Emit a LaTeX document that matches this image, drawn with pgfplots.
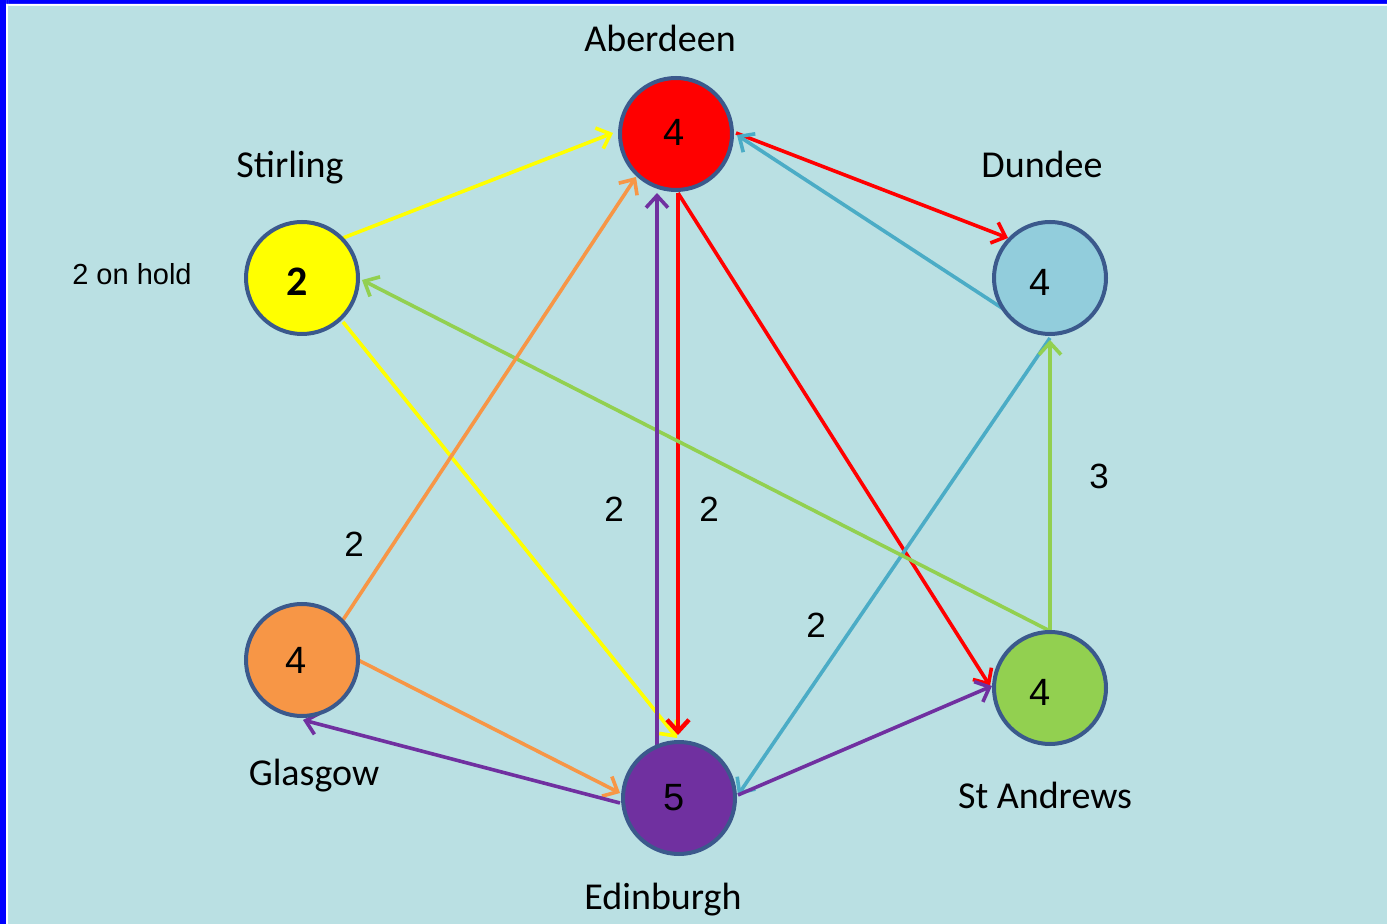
\documentclass[border=0pt]{standalone}
\usepackage{pgfplots}
\pgfplotsset{compat=1.18}
\usepackage{fontspec}
\setmainfont{Carlito}
\newfontfamily\arialf{Liberation Sans}
\usetikzlibrary{arrows.meta}
\definecolor{bg}{RGB}{186,224,227}
\definecolor{edge}{RGB}{59,89,140}
\definecolor{cRed}{RGB}{255,0,0}
\definecolor{cBlue}{RGB}{146,205,220}
\definecolor{cBlueL}{RGB}{75,172,198}
\definecolor{cYellow}{RGB}{255,255,0}
\definecolor{cOrange}{RGB}{247,150,70}
\definecolor{cGreen}{RGB}{146,208,80}
\definecolor{cPurple}{RGB}{112,48,160}
\tikzset{
  lbl/.style={anchor=base, font=\fontsize{19}{22}\selectfont},
  num/.style={anchor=base, font=\arialf\fontsize{17.5}{20}\selectfont},
  arr/.style={line width=1.8pt, -{Straight Barb[length=6pt,width=11pt]}},
}
\pgfplotsset{
  city/.style={only marks, mark=*, mark size=28pt,
    mark options={fill=#1, draw=edge, line width=2pt}},
  count/.style 2 args={only marks, mark=none,
    point meta=explicit symbolic, nodes near coords,
    nodes near coords align={center},
    every node near coord/.append style={anchor=center, text=black,
      font=\arialf\fontsize{19}{22}\selectfont, xshift=#1, yshift=#2}},
}
\begin{document}
\begin{tikzpicture}
\begin{axis}[
  width=693.5pt, height=462pt, scale only axis,
  xmin=0, xmax=1387, ymin=0, ymax=924, y dir=reverse,
  hide axis, clip=false,
]
% background and border
\addplot[draw=none, fill=blue] coordinates {(0,0) (1387,0) (1387,924) (0,924)} \closedcycle;
\addplot[draw=none, fill=white] coordinates {(6,4) (1387,4) (1387,924) (6,924)} \closedcycle;
\addplot[draw=none, fill=bg] coordinates {(8,6) (1387,6) (1387,924) (8,924)} \closedcycle;
% nodes
\addplot[city=cRed] coordinates {(676,134)};
\addplot[city=cBlue] coordinates {(1050,278)};
\addplot[city=cYellow] coordinates {(302,278)};
\addplot[city=cOrange] coordinates {(302,660)};
\addplot[city=cGreen] coordinates {(1050,688)};
\addplot[city=cPurple] coordinates {(679,798)};
% edges
\addplot[arr, no markers, cYellow] coordinates {(343,238) (613,133)};
\addplot[arr, no markers, cYellow] coordinates {(343,322) (677,738)};
\addplot[arr, no markers, cRed] coordinates {(736,133) (1008,238)};
\addplot[arr, no markers, cRed] coordinates {(678,193) (990,686)};
\addplot[arr, no markers, cRed, line width=2.2pt] coordinates {(678,193) (678,735)};
\addplot[arr, no markers, cBlueL] coordinates {(1005,310) (737,135)};
\addplot[arr, no markers, cBlueL] coordinates {(1050,338) (738,795)};
\addplot[arr, no markers, cGreen] coordinates {(1050,630) (1050,340)};
\addplot[arr, no markers, cGreen] coordinates {(1048,630) (362,280)};
\addplot[arr, no markers, cOrange] coordinates {(343,620) (636,177)};
\addplot[arr, no markers, cOrange] coordinates {(358,660) (620,793)};
\addplot[arr, no markers, cPurple] coordinates {(657,745) (657,193)};
\addplot[arr, no markers, cPurple] coordinates {(620,803) (303,720)};
\addplot[arr, no markers, cPurple] coordinates {(738,795) (992,686)};
% counts inside nodes
\addplot[count={-1pt}{1pt}] coordinates {(676,134) [4]};
\addplot[count={-5pt}{-2pt}] coordinates {(1050,278) [4]};
\addplot[count={-2.5pt}{-2pt}, every node near coord/.append style={font=\bfseries\fontsize{21}{24}\selectfont}] coordinates {(302,278) [2]};
\addplot[count={-3pt}{0pt}] coordinates {(302,660) [4]};
\addplot[count={-5pt}{-2pt}] coordinates {(1050,688) [4]};
\addplot[count={-2.5pt}{0pt}] coordinates {(679,798) [5]};
% labels
\node[lbl] at (axis cs:660,52) {Aberdeen};
\node[lbl] at (axis cs:290,178) {Stirling};
\node[lbl] at (axis cs:1042,178) {Dundee};
\node[lbl] at (axis cs:314,785) {Glasgow};
\node[lbl] at (axis cs:1045,808) {St Andrews};
\node[lbl] at (axis cs:663,909) {Edinburgh};
\node[anchor=base, font=\arialf\fontsize{14.5}{17}\selectfont] at (axis cs:132,285) {2 on hold};
\node[num] at (axis cs:354,557) {2};
\node[num] at (axis cs:614,522) {2};
\node[num] at (axis cs:709,522) {2};
\node[num] at (axis cs:1099,489) {3};
\node[num] at (axis cs:816,638) {2};
\end{axis}
\end{tikzpicture}
\end{document}
